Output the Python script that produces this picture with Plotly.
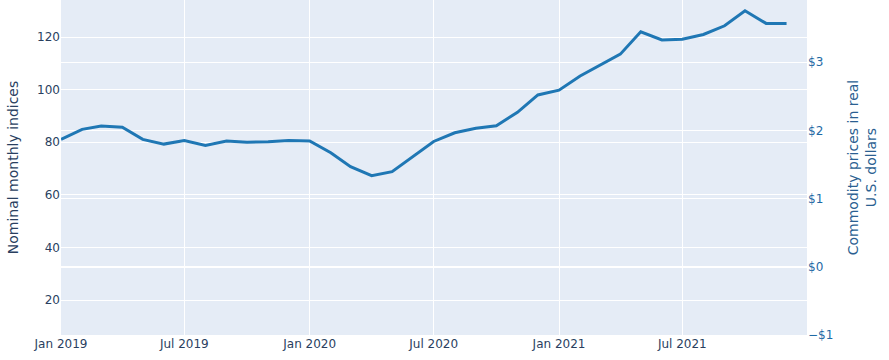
import plotly.graph_objects as go
import pandas as pd

months = pd.date_range("2019-01-01", "2021-12-01", freq="MS")
index_values = [81.1, 84.9, 86.2, 85.7, 81.1, 79.3, 80.7, 78.8, 80.5, 80.0, 80.2, 80.7,
                80.5, 76.0, 70.7, 67.3, 68.8, 74.5, 80.3, 83.6, 85.3, 86.3, 91.4, 98.0,
                99.8, 105.2, 109.1, 113.5, 122.0, 118.9, 119.2, 121.0, 124.3, 130.0, 125.2, 125.2]

left_title = "Nominal monthly indices"
right_title = "Commodity prices in real<br>U.S. dollars"

fig = go.Figure()
fig.add_trace(go.Scatter(x=months, y=index_values, mode="lines",
                         line=dict(color="#1f77b4", width=3), showlegend=False))
fig.add_trace(go.Scatter(x=[months[0]], y=[None], yaxis="y2", mode="lines",
                         showlegend=False, hoverinfo="skip"))

fig.update_layout(
    width=889, height=360,
    template="plotly",
    font=dict(family="Verdana, DejaVu Sans, sans-serif"),
    margin=dict(l=61, r=82, t=0, b=25),
    xaxis=dict(range=["2019-01-01", "2021-12-31"], dtick="M6", tickformat="%b %Y",
               tick0="2019-01-01", automargin=False),
    yaxis=dict(title=dict(text=left_title), range=[6.7, 134.1], dtick=20, automargin=False),
    yaxis2=dict(title=dict(text=right_title, font=dict(color="#2b5f91")),
                overlaying="y", side="right",
                range=[-1, 3.91], dtick=1, tickformat="$.0f",
                tickfont=dict(color="#1f6aa5"), automargin=False),
)

fig.write_html("out.html", config={"displayModeBar": False},
               post_script="document.body.style.margin='0';")
